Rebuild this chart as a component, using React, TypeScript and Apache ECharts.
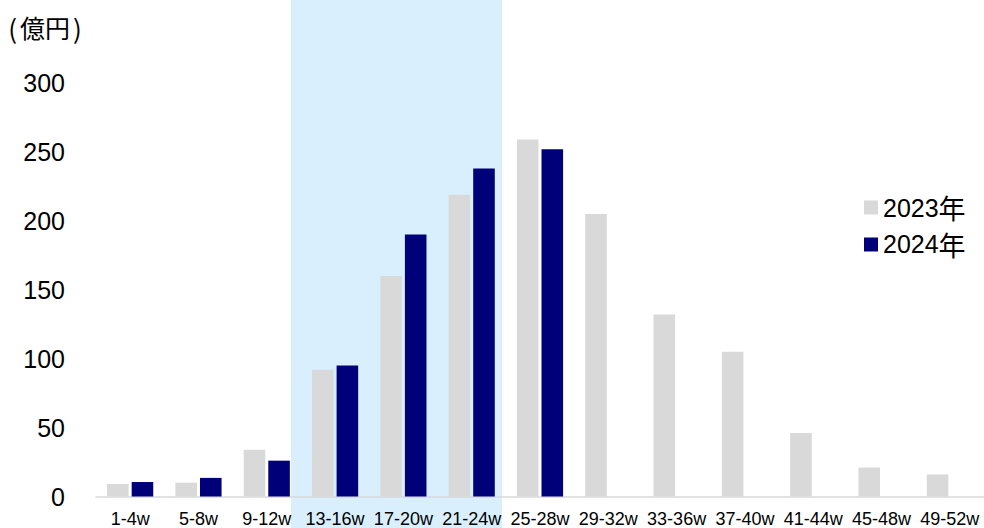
import React, { useEffect, useRef } from "react";
import * as echarts from "echarts";

const categories = ["1-4w", "5-8w", "9-12w", "13-16w", "17-20w", "21-24w", "25-28w", "29-32w", "33-36w", "37-40w", "41-44w", "45-48w", "49-52w"];
const values2023 = [9, 10, 34, 92, 160, 219, 259, 205, 132, 105, 46, 21, 16];
const values2024 = [10.5, 13.5, 26, 95, 190, 238, 252, null, null, null, null, null, null];
const seriesNames = ["2023年", "2024年"];
const yTicks = { min: 0, max: 300, interval: 50 };
const unitLabel = "億円";

const FONT = "'Liberation Sans', Arial, 'Noto Sans CJK JP', sans-serif";
const CJK = "'Noto Sans CJK JP', sans-serif";

export default function App() {
  const ref = useRef<HTMLDivElement>(null);
  useEffect(() => {
    if (!ref.current) return;
    const chart = echarts.init(ref.current, undefined, { renderer: "svg" });
    chart.setOption({
      animation: false,
      backgroundColor: "#ffffff",
      textStyle: { fontFamily: FONT },
      graphic: [
        {
          type: "rect",
          z: -100,
          silent: true,
          shape: { x: 291, y: 0, width: 211, height: 528 },
          style: { fill: "#DAEFFD" },
        },
        {
          type: "text",
          x: 45,
          y: 27,
          style: {
            text: "(" + "{m|" + unitLabel + "}" + ")",
            fontSize: 26,
            fontFamily: CJK,
            fill: "#000",
            align: "center",
            verticalAlign: "middle",
            rich: {
              m: { fontSize: 25, fontFamily: CJK, padding: [0, 3, 0, 3], fill: "#000" },
            },
          },
        },
      ],
      legend: {
        orient: "vertical",
        left: 864,
        top: 194,
        padding: 0,
        itemWidth: 14,
        itemHeight: 14,
        itemGap: 10,
        icon: "rect",
        formatter: (name: string) => name.replace(/^(\d+)(.*)$/, "{n|$1}{c|$2}"),
        textStyle: {
          color: "#000",
          rich: {
            n: { fontSize: 25, fontFamily: FONT, color: "#000", lineHeight: 26 },
            c: { fontSize: 27, fontFamily: CJK, color: "#000", lineHeight: 26 },
          },
        },
        data: seriesNames,
      },
      grid: { left: 96, right: -4, top: 83, bottom: 31.5 },
      xAxis: {
        type: "category",
        data: categories,
        axisLine: { lineStyle: { color: "#D9D9D9", width: 1.5 } },
        axisTick: { show: false },
        axisLabel: { fontSize: 18, color: "#000", margin: 13, interval: 0, fontFamily: FONT },
      },
      yAxis: {
        type: "value",
        min: yTicks.min,
        max: yTicks.max,
        interval: yTicks.interval,
        splitLine: { show: false },
        axisLine: { show: false },
        axisTick: { show: false },
        axisLabel: { fontSize: 25, color: "#000", margin: 31, fontFamily: FONT },
      },
      series: [
        {
          name: seriesNames[0],
          type: "bar",
          data: values2023,
          barWidth: "31.6%",
          barGap: "14%",
          itemStyle: { color: "#D9D9D9" },
        },
        {
          name: seriesNames[1],
          type: "bar",
          data: values2024,
          barWidth: "31.6%",
          barGap: "14%",
          itemStyle: { color: "#000078" },
        },
      ],
    });
    return () => chart.dispose();
  }, []);
  return (
    <div
      ref={ref}
      style={{ position: "fixed", left: 0, top: 0, width: 984, height: 528 }}
    />
  );
}
